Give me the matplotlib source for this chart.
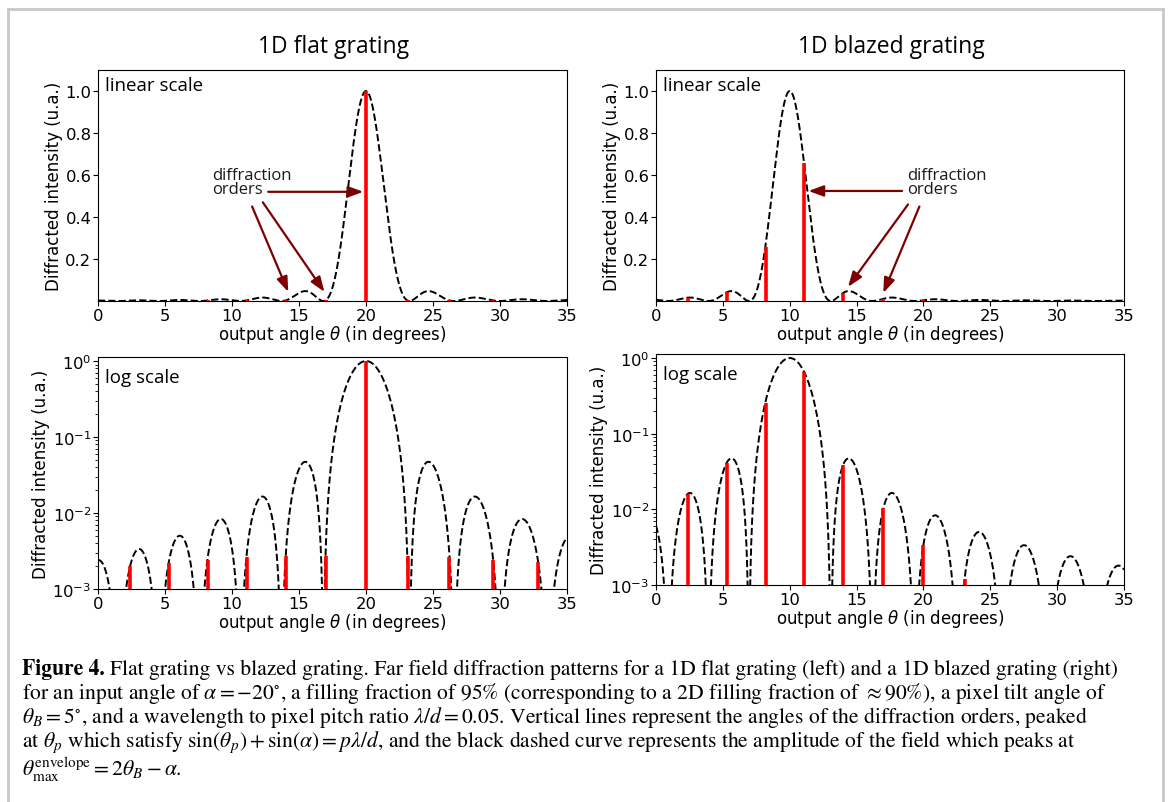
import numpy as np
import matplotlib
matplotlib.use("Agg")
import matplotlib.pyplot as plt
from matplotlib.lines import Line2D

# angles of the diffraction orders (degrees)
order_angles = [2.4, 5.3, 8.2, 11.1, 14.0, 17.0, 20.0, 23.1, 26.2, 29.5, 32.8]
# intensity carried by each order
flat_orders = [0.0020, 0.0022, 0.0024, 0.0026, 0.0027, 0.0027, 1.0,
               0.0027, 0.0026, 0.0024, 0.0023]
blazed_orders = [0.016, 0.041, 0.255, 0.656, 0.039, 0.0104, 0.0034,
                 0.0012, 0.0003, 0.00001, 0.00001]

# envelope peak angle for each grating, and pixel width / wavelength
flat_peak = 20.0
blazed_peak = 10.0
aperture_ratio = 19.0

xticks = [0, 5, 10, 15, 20, 25, 30, 35]
lin_yticks = [0.2, 0.4, 0.6, 0.8, 1.0]

theta = np.linspace(0, 35, 4000)


def envelope(peak):
    s = np.sin(np.radians(theta)) - np.sin(np.radians(peak))
    return np.sinc(aperture_ratio * s) ** 2


TICK = 11.8
LABEL_FONT = "Open Sans"
W, H = 1170, 803


def px_axes(fig, left, top, right, bottom):
    return fig.add_axes([left / W, 1 - bottom / H, (right - left) / W, (bottom - top) / H])


def draw_panel(ax, peak, orders, log):
    ax.plot(theta, envelope(peak), ls="--", color="black", lw=1.4, zorder=2)
    base = 1e-5 if log else 0.0
    ax.vlines(order_angles, base, orders, color="red", lw=2.6, zorder=3)
    ax.set_xlim(0, 35)
    ax.set_xticks(xticks)
    if log:
        ax.set_yscale("log")
        ax.set_ylim(1e-3, 1.13)
    else:
        ax.set_ylim(0, 1.1)
        ax.set_yticks(lin_yticks)
        ax.set_yticklabels(["0.2", "0.4", "0.6", "0.8", "1.0"])
    ax.tick_params(labelsize=TICK, pad=1.2)
    ax.set_xlabel(r"output angle $\theta$ (in degrees)", fontsize=12, labelpad=0.5)
    ax.set_ylabel("Diffracted intensity (u.a.)", fontsize=12, labelpad=1.5)
    off = 20 if log else 15
    h_px = ax.get_position().height * H
    ax.text(0.015, 1 - off / h_px, "log scale" if log else "linear scale",
            transform=ax.transAxes, ha="left", va="center", fontsize=13.5, family=LABEL_FONT)


fig = plt.figure(figsize=(W / 100, H / 100), dpi=100)

ax_fl = px_axes(fig, 98, 71, 567, 302)
ax_bl = px_axes(fig, 656, 71, 1124, 302)
ax_fg = px_axes(fig, 98, 358, 567, 590)
ax_bg = px_axes(fig, 656, 355, 1124, 586)

draw_panel(ax_fl, flat_peak, flat_orders, log=False)
draw_panel(ax_bl, blazed_peak, blazed_orders, log=False)
draw_panel(ax_fg, flat_peak, flat_orders, log=True)
draw_panel(ax_bg, blazed_peak, blazed_orders, log=True)

fig.text(334 / W, 1 - 47 / H, "1D flat grating", ha="center", va="center",
         fontsize=16.5, family=LABEL_FONT)
fig.text(891 / W, 1 - 47 / H, "1D blazed grating", ha="center", va="center",
         fontsize=16.5, family=LABEL_FONT)

# arrows pointing at the diffraction orders
arrow_color = "#7d0000"
aprops = dict(arrowstyle="-|>,head_length=0.9,head_width=0.33", color=arrow_color,
              lw=1.6, shrinkA=0, shrinkB=0)

ax_fl.text(8.5, 0.567, "diffraction\norders", ha="left", va="center", fontsize=12,
           family=LABEL_FONT, color="#1a1a1a", linespacing=0.9)
for start, tip in [((12.7, 0.52), (19.8, 0.52)),
                   ((11.5, 0.45), (14.2, 0.043)),
                   ((12.3, 0.47), (16.9, 0.043))]:
    ax_fl.annotate("", xy=tip, xytext=start, arrowprops=aprops)

ax_bl.text(18.8, 0.567, "diffraction\norders", ha="left", va="center", fontsize=12,
           family=LABEL_FONT, color="#1a1a1a", linespacing=0.9)
for start, tip in [((18.4, 0.524), (11.4, 0.524)),
                   ((18.85, 0.46), (14.36, 0.067)),
                   ((19.7, 0.45), (17.0, 0.038))]:
    ax_bl.annotate("", xy=tip, xytext=start, arrowprops=aprops)

# caption
caption = [
    r"Flat grating vs blazed grating. Far field diffraction patterns for a 1D flat grating (left) and a 1D blazed grating (right)",
    r"for an input angle of $\alpha = -20^{\circ}$, a filling fraction of 95% (corresponding to a 2D filling fraction of $\approx$90%), a pixel tilt angle of",
    r"$\theta_B = 5^{\circ}$, and a wavelength to pixel pitch ratio $\lambda/d = 0.05$. Vertical lines represent the angles of the diffraction orders, peaked",
    r"at $\theta_p$ which satisfy $\sin(\theta_p) + \sin(\alpha) = p\lambda/d$, and the black dashed curve represents the amplitude of the field which peaks at",
    r"$\theta_{\max}^{\mathrm{envelope}} = 2\theta_B - \alpha$.",
]
caption_y = [670, 694, 718, 742, 770]
cap_size = 15.6
bold = fig.text(22 / W, 1 - caption_y[0] / H, "Figure 4.", ha="left", va="center",
                fontsize=cap_size, family="STIXGeneral", weight="bold")
fig.canvas.draw()
bb = bold.get_window_extent()
first_x = (bb.x1 + 5) / W
for i, line in enumerate(caption):
    x = first_x if i == 0 else 22 / W
    fig.text(x, 1 - caption_y[i] / H, line, ha="left", va="center", fontsize=cap_size,
             family="STIXGeneral", math_fontfamily="stix")

# page frame
frame = dict(color="#c8c8c8", lw=2, transform=fig.transFigure)
fig.add_artist(Line2D([8 / W, 8 / W], [0, 1 - 10 / H], **frame))
fig.add_artist(Line2D([8 / W, 1163 / W], [1 - 10 / H, 1 - 10 / H], **frame))
fig.add_artist(Line2D([1163 / W, 1163 / W], [0, 1 - 10 / H], **frame))

fig.savefig("out.png", dpi=100)
